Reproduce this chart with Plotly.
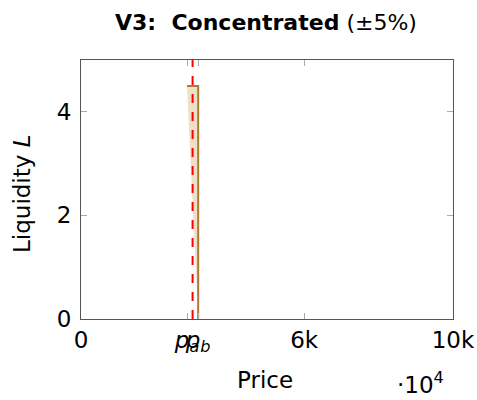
import plotly.graph_objects as go

# Data
price_current = 3000
p_a = 2850
p_b = 3150
liquidity = 4.5
x_tickvals = [0, p_a, p_b, 6000, 10000]
x_ticktext = ["0", "<i>p<sub>a</sub></i>", "<i>p<sub>b</sub></i>", "6k", "10k"]
y_tickvals = [0, 2, 4]

FONT = "'DejaVu Sans', sans-serif"
BROWN = "#B07A36"
FILL = "rgba(232,212,180,0.75)"

W, H = 477, 400
L_M, R_M, T_M, B_M = 81, 24, 60, 81
PW, PH = W - L_M - R_M, H - T_M - B_M


def px(xp):
    return (xp - L_M) / PW


def py(yp):
    return (H - B_M - yp) / PH


fig = go.Figure()
fig.add_trace(go.Scatter(
    x=[p_a, p_b, p_b, p_a], y=[liquidity, liquidity, 0, liquidity],
    fill="toself", fillcolor=FILL, mode="none", showlegend=False, hoverinfo="skip"))
fig.add_trace(go.Scatter(
    x=[p_a, p_b, p_b], y=[liquidity, liquidity, 0], mode="lines",
    line=dict(color=BROWN, width=2), showlegend=False))
fig.add_trace(go.Scatter(
    x=[price_current, price_current], y=[0, 5], mode="lines",
    line=dict(color="red", width=2, dash="dash"), showlegend=False, cliponaxis=False))

axis_common = dict(
    showgrid=False, zeroline=False, showline=True, linecolor="#555555", linewidth=1,
    mirror="allticks", ticks="inside", ticklen=6, tickcolor="#aaaaaa", tickwidth=1,
    automargin=False,
    tickfont=dict(family=FONT, size=23, color="black"),
)


def ann(text, xp, yp, size, **kw):
    return dict(text=text, x=px(xp), y=py(yp), xref="paper", yref="paper",
                xanchor="center", yanchor="middle", showarrow=False,
                font=dict(family=FONT, size=size, color="black"), **kw)


fig.update_layout(
    width=W, height=H,
    margin=dict(l=L_M, r=R_M, t=T_M, b=B_M),
    paper_bgcolor="white", plot_bgcolor="white",
    xaxis=dict(range=[0, 10000], tickmode="array", tickvals=x_tickvals,
               ticktext=x_ticktext, tickangle=0, **axis_common),
    yaxis=dict(range=[0, 5], tickmode="array", tickvals=y_tickvals,
               ticktext=[str(v) for v in y_tickvals], ticklabelstandoff=4, **axis_common),
    annotations=[
        ann("<b>V3:  Concentrated</b> (±5%)", 266, 22, 22),
        ann("Price", 265, 380, 23),
        ann("·10<sup>4</sup>", 420, 383, 23),
        ann("Liquidity <i>L</i>", 22, 194, 23, textangle=-90),
    ],
)
fig.write_html("out.html")
